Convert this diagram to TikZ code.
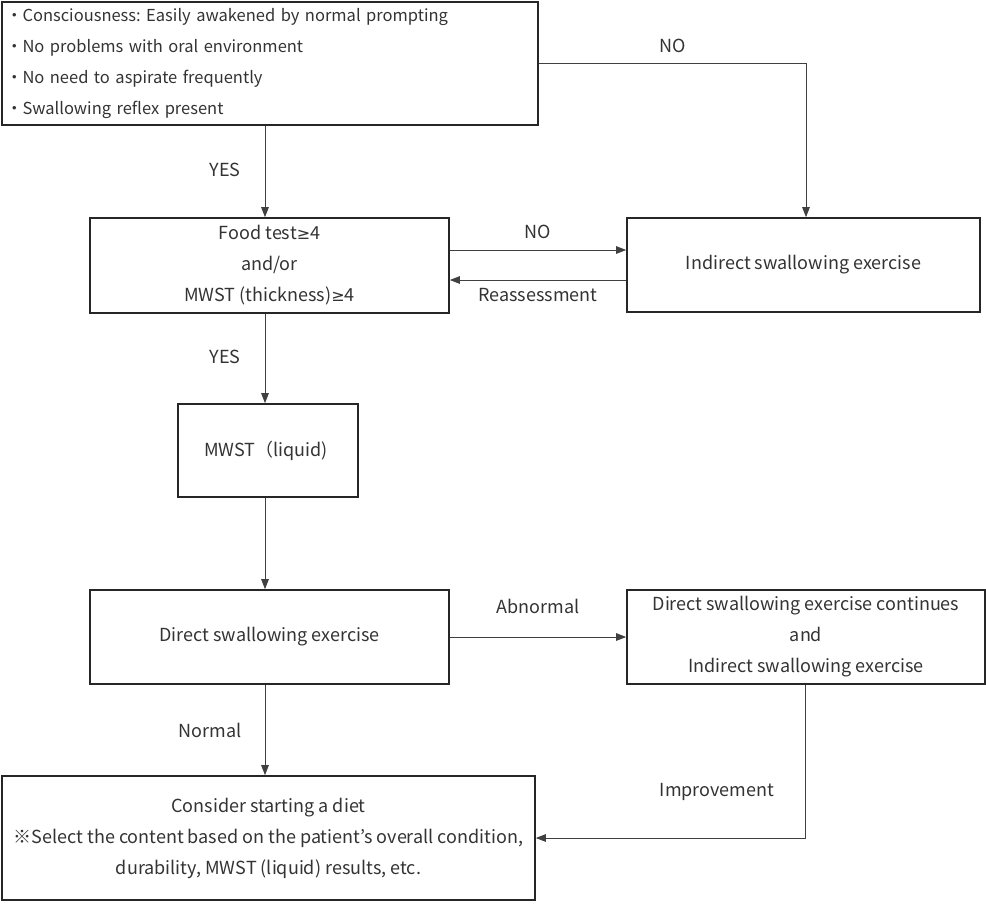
\documentclass[tikz,border=0pt]{standalone}
\usepackage{fontspec}
\setmainfont{Noto Sans CJK JP}
\newfontfamily\gefont{DejaVu Sans}
\newcommand{\mygeq}{{\gefont\fontsize{16}{16}\selectfont ≥}}
\usetikzlibrary{arrows.meta}
\frenchspacing
\tikzset{
  box/.style={draw=black!85, line width=1.6pt, rectangle, inner sep=0pt, align=center,
    font=\fontsize{18}{31}\selectfont, text=black!80},
  topbox/.style={box, font=\fontsize{16.5}{31}\selectfont},
  lbl/.style={font=\fontsize{18}{20}\selectfont, text=black!80, inner sep=0pt},
  conn/.style={draw=black!75, line width=1pt, -{Triangle[length=10pt,width=7.5pt]}}
}
\begin{document}
\begin{tikzpicture}[x=1pt,y=-1pt]
\useasboundingbox (0,0) rectangle (986,903);
% boxes
\node[topbox, minimum width=536, minimum height=123, text width=528, align=left] (b1) at (270,63.5)
 {・Consciousness: Easily awakened by normal prompting\\
  ・No problems with oral environment\\
  ・No need to aspirate frequently\\
  ・Swallowing reflex present};
\node[box, minimum width=359, minimum height=95] (b2) at (269.5,265.5)
 {Food test\mygeq 4\\and/or\\MWST (thickness)\mygeq 4};
\node[box, minimum width=353, minimum height=94] (b3) at (803.5,265)
 {Indirect swallowing exercise};
\node[box, minimum width=180, minimum height=93] (b4) at (268,450.5)
 {\hspace*{-4pt}MWST（liquid)};
\node[box, minimum width=359, minimum height=94] (b5) at (269.5,637)
 {Direct swallowing exercise};
\node[box, minimum width=358, minimum height=94] (b6) at (806,637)
 {Direct swallowing exercise continues\\and\\Indirect swallowing exercise};
\node[box, minimum width=533, minimum height=124] (b7) at (268.5,838)
 {Consider starting a diet\\※Select the content based on the patient\char"27 s overall condition,\\durability, MWST (liquid) results, etc.};
% connectors
\draw[conn] (b1.east) -| (b3.north -| 806,0);
\draw[conn] (b1.south -| 265,0) -- (b2.north -| 265,0);
\draw[conn] (b2.east |- 0,250) -- (b3.west |- 0,250);
\draw[conn] (b3.west |- 0,280) -- (b2.east |- 0,280);
\draw[conn] (b2.south -| 265,0) -- (b4.north -| 265,0);
\draw[conn] (b4.south -| 265,0) -- (b5.north -| 265,0);
\draw[conn] (b5.east) -- (b6.west |- b5.east);
\draw[conn] (b5.south -| 265,0) -- (b7.north -| 265,0);
\draw[conn] (b6.south -| 805,0) |- (b7.east);
% labels
\node[lbl] (l1) at (673,46) {NO};
\node[lbl] (l2) at (225,170) {YES};
\node[lbl] (l3) at (538,232) {NO};
\node[lbl] (l4) at (538,295) {Reassessment};
\node[lbl] (l5) at (225,357) {YES};
\node[lbl] (l6) at (538,606) {Abnormal};
\node[lbl] (l7) at (210,730) {Normal};
\node[lbl] (l8) at (717,792) {Improvement};
\end{tikzpicture}
\end{document}
